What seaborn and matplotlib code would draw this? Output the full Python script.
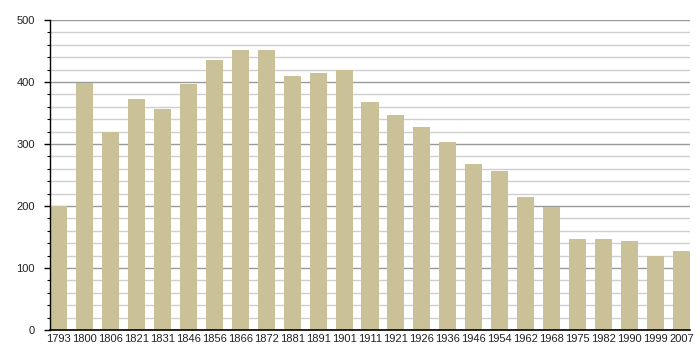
import matplotlib
matplotlib.use("Agg")
import matplotlib.pyplot as plt
import seaborn as sns
import pandas as pd
from matplotlib.ticker import MultipleLocator

years = ["1793", "1800", "1806", "1821", "1831", "1846", "1856", "1866", "1872",
         "1881", "1891", "1901", "1911", "1921", "1926", "1936", "1946", "1954",
         "1962", "1968", "1975", "1982", "1990", "1999", "2007"]
population = [200, 398, 320, 372, 357, 396, 436, 451, 452,
              409, 415, 420, 368, 346, 327, 304, 267, 256,
              214, 198, 146, 146, 144, 120, 127]

df = pd.DataFrame({"year": years, "pop": population})

sns.set_theme(style="white")
plt.rcParams["font.family"] = ["Liberation Sans", "DejaVu Sans"]

fig = plt.figure(figsize=(7, 3.6), dpi=100)
ax = fig.add_axes([50 / 700, 30 / 360, 640 / 700, 310 / 360])

sns.barplot(data=df, x="year", y="pop", color="#CBC198", saturation=1,
            width=0.656, ax=ax, linewidth=0, edgecolor="none")
for p in ax.patches:
    p.set_zorder(2)

ax.set_ylim(0, 500)
ax.set_xlim(-0.328, len(years) - 1 + 0.328)
ax.yaxis.set_major_locator(MultipleLocator(100))
ax.yaxis.set_minor_locator(MultipleLocator(20))
ax.grid(which="major", axis="y", color="#9a9a9a", linewidth=1)
ax.grid(which="minor", axis="y", color="#cfcfcf", linewidth=1)
ax.set_axisbelow(True)

for s in ["top", "right"]:
    ax.spines[s].set_visible(False)
for s in ["left", "bottom"]:
    ax.spines[s].set_color("black")
    ax.spines[s].set_zorder(5)
ax.spines["left"].set_linewidth(1)
ax.spines["bottom"].set_linewidth(1.2)

ax.tick_params(axis="y", which="major", left=True, length=4, width=1, color="black",
               labelsize=8, pad=7)
ax.tick_params(axis="y", which="minor", left=True, length=2.5, width=0.8, color="black")
ax.tick_params(axis="x", which="both", bottom=False, length=0, labelsize=8, pad=3)
ax.set_xlabel("")
ax.set_ylabel("")
for lab in ax.get_xticklabels() + ax.get_yticklabels():
    lab.set_color("#222222")

fig.savefig("out.png", dpi=100, facecolor="white")
